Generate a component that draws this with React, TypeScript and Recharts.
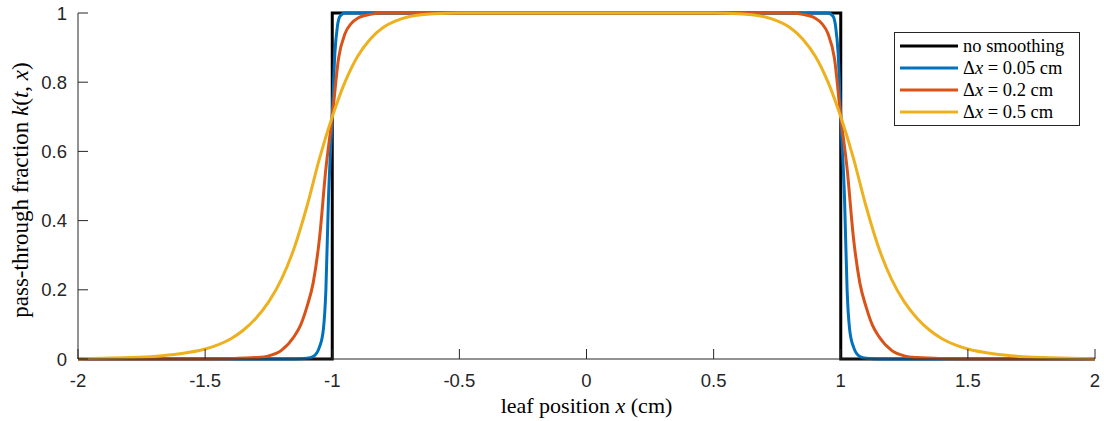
import React from "react";
import { LineChart, Line, XAxis, YAxis, Legend, Label } from "recharts";

// axis ticks
const xTicks = [-2, -1.5, -1, -0.5, 0, 0.5, 1, 1.5, 2];
const yTicks = [0, 0.2, 0.4, 0.6, 0.8, 1];

// no smoothing (ideal step)
const stepX = [-2, -1, -1, 1, 1, 2];
const stepY = [0, 0, 1, 1, 0, 0];

// dx = 0.05 cm
const fineX = [-2, -1.15, -1.1, -1.075, -1.05, -1.035, -1.025, -1.015, -1, -0.99, -0.98, -0.97, -0.95, 0, 0.95, 0.97, 0.98, 0.99, 1, 1.015, 1.025, 1.035, 1.05, 1.075, 1.1, 1.15, 2];
const fineY = [0, 0, 0.002, 0.007, 0.035, 0.085, 0.2, 0.46, 0.7, 0.88, 0.96, 0.99, 1, 1, 1, 0.99, 0.96, 0.88, 0.7, 0.46, 0.2, 0.085, 0.035, 0.007, 0.002, 0, 0];

// dx = 0.2 cm
const midX = [-2, -1.5, -1.4, -1.3, -1.25, -1.2, -1.15, -1.125, -1.1, -1.075, -1.05, -1.025, -1, -0.975, -0.95, -0.925, -0.9, -0.85, -0.8, 0, 0.8, 0.85, 0.9, 0.925, 0.95, 0.975, 1, 1.025, 1.05, 1.075, 1.1, 1.125, 1.15, 1.2, 1.25, 1.3, 1.4, 1.5, 2];
const midY = [0, 0.0003, 0.001, 0.004, 0.009, 0.025, 0.065, 0.097, 0.15, 0.22, 0.35, 0.55, 0.7, 0.87, 0.94, 0.97, 0.985, 0.996, 1, 1, 1, 0.996, 0.985, 0.97, 0.94, 0.87, 0.7, 0.55, 0.35, 0.22, 0.15, 0.097, 0.065, 0.025, 0.009, 0.004, 0.001, 0.0003, 0];

// dx = 0.5 cm
const wideX = [-2, -1.9, -1.8, -1.7, -1.6, -1.5, -1.45, -1.4, -1.35, -1.3, -1.25, -1.2, -1.15, -1.1, -1.05, -1, -0.95, -0.9, -0.85, -0.8, -0.75, -0.7, -0.65, -0.6, -0.5, 0, 0.5, 0.6, 0.65, 0.7, 0.75, 0.8, 0.85, 0.9, 0.95, 1, 1.05, 1.1, 1.15, 1.2, 1.25, 1.3, 1.35, 1.4, 1.45, 1.5, 1.6, 1.7, 1.8, 1.9, 2];
const wideY = [0.001, 0.002, 0.004, 0.0075, 0.015, 0.029, 0.041, 0.058, 0.083, 0.118, 0.165, 0.23, 0.32, 0.44, 0.58, 0.7, 0.8, 0.875, 0.925, 0.958, 0.977, 0.989, 0.995, 0.998, 1, 1, 1, 0.998, 0.995, 0.989, 0.977, 0.958, 0.925, 0.875, 0.8, 0.7, 0.58, 0.44, 0.32, 0.23, 0.165, 0.118, 0.083, 0.058, 0.041, 0.029, 0.015, 0.0075, 0.004, 0.002, 0.001];

const colors = ["#000000", "#0072BD", "#D95319", "#EDB120"];
const dxLabels = ["0.05", "0.2", "0.5"];

const toPoints = (xs: number[], ys: number[]) => xs.map((x, i) => ({ x, y: ys[i] }));

const series = [
  { key: "step", data: toPoints(stepX, stepY), type: "linear" as const },
  { key: "fine", data: toPoints(fineX, fineY), type: "monotone" as const },
  { key: "mid", data: toPoints(midX, midY), type: "monotone" as const },
  { key: "wide", data: toPoints(wideX, wideY), type: "monotone" as const },
];

const serif = "'Liberation Serif', 'Times New Roman', serif";
const sans = "'Liberation Sans', Arial, Helvetica, sans-serif";
const ink = "#262626";

function LegendBox() {
  const rows = [<span key="n">no smoothing</span>].concat(
    dxLabels.map((v) => (
      <span key={v}>
        Δ<i>x</i> = {v} cm
      </span>
    ))
  );
  return (
    <div
      style={{
        border: `1px solid ${ink}`,
        background: "#fff",
        padding: "2px 6px 2px 5px",
        fontFamily: serif,
        fontSize: 18.5,
        color: "#000",
        width: 173,
      }}
    >
      {rows.map((r, i) => (
        <div key={i} style={{ display: "flex", alignItems: "center", height: 22 }}>
          <svg width={58} height={6} style={{ marginRight: 5 }}>
            <line x1={0} y1={3} x2={58} y2={3} stroke={colors[i]} strokeWidth={3} />
          </svg>
          <span style={{ whiteSpace: "nowrap" }}>{r}</span>
        </div>
      ))}
    </div>
  );
}

export default function App() {
  return (
    <div style={{ position: "absolute", left: 0, top: 0, background: "#fff" }}>
      <LineChart width={1104} height={421} margin={{ top: 13, right: 9, bottom: 0, left: 0 }}>
        <XAxis
          type="number"
          dataKey="x"
          domain={[-2, 2]}
          ticks={xTicks}
          tickFormatter={(v) => String(v)}
          height={62}
          tickSize={-10}
          tickMargin={25}
          axisLine={{ stroke: ink, strokeWidth: 1 }}
          tickLine={{ stroke: ink, strokeWidth: 1 }}
          tick={{ fill: ink, fontSize: 18.5, fontFamily: sans }}
          allowDuplicatedCategory={false}
        >
          <Label
            content={(props: any) => {
              const vb = props.viewBox || { x: 78, y: 359, width: 1017, height: 62 };
              return (
                <text
                  x={vb.x + vb.width / 2}
                  y={vb.y + 54}
                  textAnchor="middle"
                  fontFamily={serif}
                  fontSize={22}
                  fill="#000"
                >
                  leaf position <tspan fontStyle="italic">x</tspan> (cm)
                </text>
              );
            }}
          />
        </XAxis>
        <YAxis
          type="number"
          domain={[0, 1]}
          ticks={yTicks}
          tickFormatter={(v) => String(v)}
          width={78}
          tickSize={-10}
          tickMargin={21}
          axisLine={{ stroke: ink, strokeWidth: 1 }}
          tickLine={{ stroke: ink, strokeWidth: 1 }}
          tick={{ fill: ink, fontSize: 18.5, fontFamily: sans }}
        >
          <Label
            content={(props: any) => {
              const vb = props.viewBox || { x: 0, y: 13, width: 78, height: 346 };
              const cx = 28;
              const cy = vb.y + vb.height / 2 + 4;
              return (
                <text
                  x={cx}
                  y={cy}
                  transform={`rotate(-90 ${cx} ${cy})`}
                  textAnchor="middle"
                  fontFamily={serif}
                  fontSize={23}
                  fill="#000"
                >
                  pass-through fraction <tspan fontStyle="italic">k</tspan>(<tspan fontStyle="italic">t</tspan>,{" "}
                  <tspan fontStyle="italic">x</tspan>)
                </text>
              );
            }}
          />
        </YAxis>
        {series.map((s, i) => (
          <Line
            key={s.key}
            data={s.data}
            dataKey="y"
            type={s.type}
            stroke={colors[i]}
            strokeWidth={3}
            dot={false}
            activeDot={false}
            isAnimationActive={false}
          />
        ))}
        <Legend
          layout="vertical"
          align="center"
          verticalAlign="middle"
          content={() => <LegendBox />}
          wrapperStyle={{ position: "absolute", left: 894, top: 32, width: 186 }}
        />
      </LineChart>
    </div>
  );
}
